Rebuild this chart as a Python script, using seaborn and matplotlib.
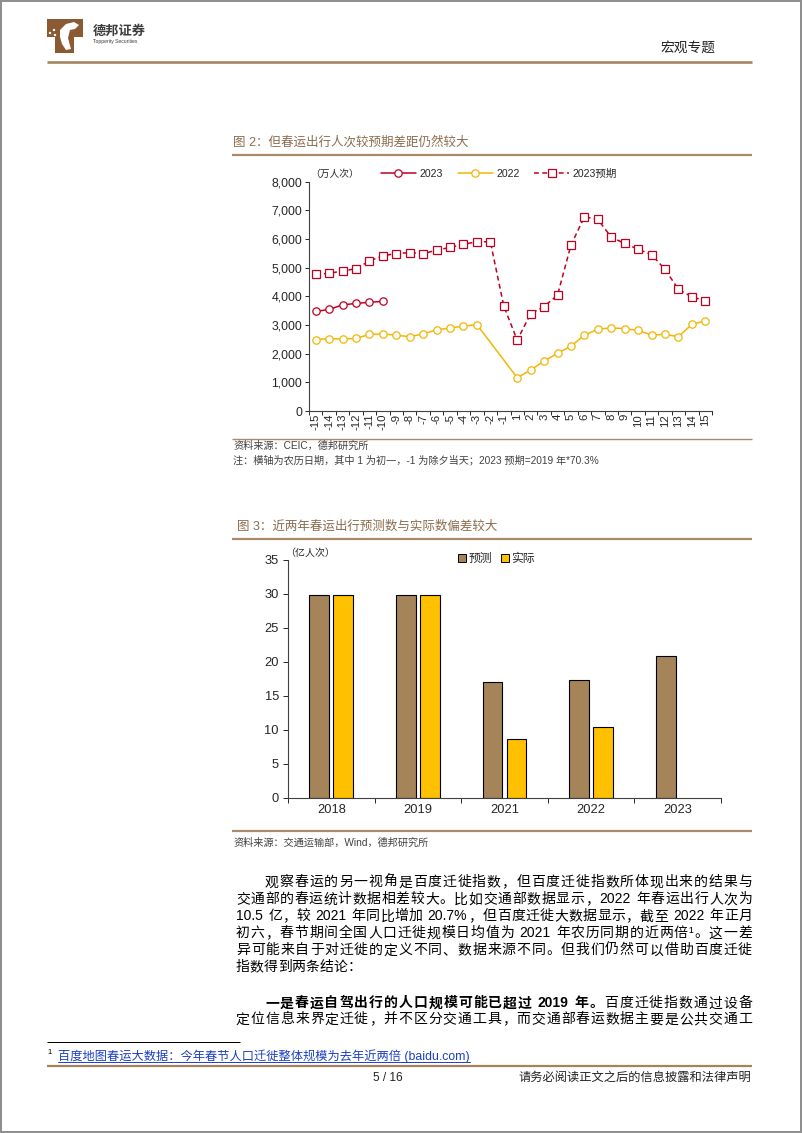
import re
import numpy as np
import pandas as pd
import matplotlib
matplotlib.use('Agg')
import matplotlib.pyplot as plt
import seaborn as sns
from matplotlib.patches import Rectangle, Polygon, Circle
from matplotlib.lines import Line2D
from matplotlib.ticker import FuncFormatter, FixedLocator, NullFormatter

# ---------------- data ----------------
days = ['-15', '-14', '-13', '-12', '-11', '-10', '-9', '-8', '-7', '-6', '-5', '-4', '-3', '-2', '-1',
        '1', '2', '3', '4', '5', '6', '7', '8', '9', '10', '11', '12', '13', '14', '15']
trips_2023 = [3470, 3540, 3700, 3750, 3790, 3820] + [np.nan] * 24
trips_2022 = [2490, 2520, 2510, 2530, 2670, 2690, 2640, 2590, 2690, 2830, 2890, 2960, 3010, np.nan, np.nan,
              1160, 1430, 1740, 2010, 2260, 2640, 2850, 2900, 2870, 2810, 2650, 2670, 2590, 3020, 3140]
trips_2023_expected = [4760, 4800, 4880, 4960, 5230, 5410, 5490, 5520, 5480, 5610, 5700, 5810, 5900, 5900, 3660,
                       2470, 3390, 3640, 4040, 5780, 6770, 6680, 6060, 5840, 5640, 5450, 4940, 4240, 3980, 3840]
series_names = ['2023', '2022', '2023预期']
y1_ticks = [0, 1000, 2000, 3000, 4000, 5000, 6000, 7000, 8000]

years = ['2018', '2019', '2021', '2022', '2023']
forecast = [29.8, 29.9, 17.0, 17.3, 20.9]
actual = [29.8, 29.8, 8.7, 10.5, np.nan]
bar_kinds = ['预测', '实际']
y2_ticks = [0, 5, 10, 15, 20, 25, 30, 35]

# ---------------- style ----------------
sns.set_style('white')
plt.rcParams['font.family'] = ['Liberation Sans', 'Noto Sans CJK SC', 'DejaVu Sans']
plt.rcParams['axes.unicode_minus'] = False

RED = '#c00020'
YEL = '#f2b705'
BAR_BROWN = '#a6845a'
BAR_GOLD = '#ffc000'
RULE = '#a88a6b'
TITLE_C = '#8a6d4f'
GREY = '#404040'

W, H = 802, 1133
fig = plt.figure(figsize=(W / 100, H / 100), dpi=100)
fig.patch.set_facecolor('white')

ov = fig.add_axes([0, 0, 1, 1], zorder=-5)
ov.set_xlim(0, W)
ov.set_ylim(H, 0)
ov.axis('off')
renderer = fig.canvas.get_renderer()


def hline(y, x0, x1, color=RULE, lw=1.5):
    ov.add_line(Line2D([x0, x1], [y, y], color=color, lw=lw * 0.72, solid_capstyle='butt'))


def fx(x):
    return x / W


def fy(y):
    return 1 - y / H


# page border
ov.add_patch(Rectangle((1, 1), W - 2, H - 2, fill=False, edgecolor='#8c8c8c', lw=1.4))

# ---------------- header ----------------
LOGO = '#8c5a32'
ov.add_patch(Polygon([(47, 19), (83, 19), (83, 37), (74, 37), (74, 53), (55, 53), (55, 37), (47, 37)],
                     closed=True, facecolor=LOGO, edgecolor='none'))
ov.add_patch(Polygon([(60, 30), (66, 24), (74, 22), (79, 25), (75, 29), (70, 30), (68, 38), (71, 49),
                      (66, 50), (62, 44), (60, 37)], closed=True, facecolor='white', edgecolor='none'))
for (cx, cy) in [(50, 33), (54, 30), (55, 35)]:
    ov.add_patch(Circle((cx, cy), 1.2, facecolor='white', edgecolor='none'))
ov.text(93, 32, '德邦证券', fontsize=9.5, fontweight='bold', color='#3d3d3d', va='center', ha='left')
ov.text(93, 42, 'Topperity Securities', fontsize=3.6, color='#3d3d3d', va='center', ha='left')
ov.text(660, 48, '宏观专题', fontsize=9.9, color='#222222', va='center', ha='left')
hline(62, 47, 752, color='#a5825c', lw=2.6)

# ---------------- chart 1 ----------------
ov.text(233, 142, '图 2：但春运出行人次较预期差距仍然较大', fontsize=9, color=TITLE_C, va='center', ha='left')
hline(155, 232, 752, lw=2.2)

ax1 = fig.add_axes([fx(309), fy(411), (712 - 309) / W, (411 - 181.5) / H])
ax1.patch.set_visible(False)
df1 = pd.DataFrame({'pos': np.arange(len(days)), 'day': days,
                    '2023': trips_2023, '2022': trips_2022, '2023预期': trips_2023_expected})
styles = {'2023': (RED, 'o', '-', 5.3), '2022': (YEL, 'o', '-', 5.3), '2023预期': (RED, 's', (0, (3.2, 2.2)), 5.6)}
for name in series_names:
    col, mk, ls, ms = styles[name]
    d = df1[['pos', name]].dropna()
    sns.lineplot(data=d, x='pos', y=name, ax=ax1, color=col, linewidth=1.1, linestyle=ls,
                 marker=mk, markersize=ms, markerfacecolor='white', markeredgecolor=col,
                 markeredgewidth=0.9, label=name, legend=False)
ax1.set_xlim(-0.5, len(days) - 0.5)
ax1.set_ylim(0, 8000)
ax1.set_xlabel('')
ax1.set_ylabel('')
ax1.yaxis.set_major_locator(FixedLocator(y1_ticks))
ax1.yaxis.set_major_formatter(FuncFormatter(lambda v, p: f'{int(v):,}'))
ax1.xaxis.set_major_locator(FixedLocator(np.arange(-0.5, len(days), 1.0)))
ax1.xaxis.set_major_formatter(NullFormatter())
ax1.xaxis.set_minor_locator(FixedLocator(np.arange(len(days))))
ax1.set_xticklabels(days, minor=True)
ax1.tick_params(axis='y', direction='out', length=3, width=0.7, labelsize=8.8, pad=2, colors='#262626', left=True)
ax1.tick_params(axis='x', which='major', direction='out', length=3, width=0.7, bottom=True)
ax1.tick_params(axis='x', which='minor', length=0, labelsize=8.2, pad=2, labelrotation=90, colors='#262626')
for s in ['top', 'right']:
    ax1.spines[s].set_visible(False)
for s in ['left', 'bottom']:
    ax1.spines[s].set_color('#404040')
    ax1.spines[s].set_linewidth(0.8)

ov.text(310, 174, '（万人次）', fontsize=7, color='#262626', va='center', ha='left')
h1, l1 = ax1.get_legend_handles_labels()
leg1 = ax1.legend(h1, l1, loc='center left', bbox_to_anchor=(fx(381), fy(174)),
                  bbox_transform=fig.transFigure, ncol=3, frameon=False, fontsize=7.6,
                  handlelength=3.3, handletextpad=0.35, columnspacing=1.4, borderpad=0, borderaxespad=0)
for t in leg1.get_texts():
    t.set_color('#262626')

hline(439, 232, 752, lw=1.4)
ov.text(233, 446, '资料来源：CEIC，德邦研究所', fontsize=7.3, color=GREY, va='center', ha='left')
ov.text(233, 460, '注：横轴为农历日期，其中 1 为初一，-1 为除夕当天；2023 预期=2019 年*70.3%',
        fontsize=7.3, color=GREY, va='center', ha='left')

# ---------------- chart 2 ----------------
ov.text(237, 527, '图 3：近两年春运出行预测数与实际数偏差较大', fontsize=9, color=TITLE_C, va='center', ha='left')
hline(539, 232, 752, lw=2.2)

ax2 = fig.add_axes([fx(288), fy(798), 433 / W, (798 - 560) / H])
ax2.patch.set_visible(False)
df2 = pd.DataFrame({'year': years * 2,
                    'kind': [bar_kinds[0]] * len(years) + [bar_kinds[1]] * len(years),
                    'value': forecast + actual}).dropna()
sns.barplot(data=df2, x='year', y='value', hue='kind', order=years, hue_order=bar_kinds,
            palette=[BAR_BROWN, BAR_GOLD], saturation=1, width=0.554, gap=0.17,
            edgecolor='black', linewidth=0.8, errorbar=None, ax=ax2, legend=False)
ax2.set_xlim(-0.5, len(years) - 0.5)
ax2.set_ylim(0, 35)
ax2.set_xlabel('')
ax2.set_ylabel('')
ax2.yaxis.set_major_locator(FixedLocator(y2_ticks))
ax2.xaxis.set_major_locator(FixedLocator(np.arange(-0.5, len(years), 1.0)))
ax2.xaxis.set_major_formatter(NullFormatter())
ax2.xaxis.set_minor_locator(FixedLocator(np.arange(len(years))))
ax2.set_xticklabels(years, minor=True)
ax2.tick_params(axis='y', direction='out', length=3.5, width=0.7, labelsize=9.3, pad=3, colors='#262626', left=True)
ax2.tick_params(axis='x', which='major', direction='out', length=3.5, width=0.7, bottom=True)
ax2.tick_params(axis='x', which='minor', length=0, labelsize=9.3, pad=4, colors='#262626')
for s in ['top', 'right']:
    ax2.spines[s].set_visible(False)
for s in ['left', 'bottom']:
    ax2.spines[s].set_color('#404040')
    ax2.spines[s].set_linewidth(0.8)

ov.text(285, 553, '（亿人次）', fontsize=7.2, color='#262626', va='center', ha='left')
h2 = [Rectangle((0, 0), 1, 1, facecolor=c, edgecolor='black', lw=0.7) for c in [BAR_BROWN, BAR_GOLD]]
ax2.legend(h2, bar_kinds, loc='center left', bbox_to_anchor=(fx(458), fy(559)),
           bbox_transform=fig.transFigure, ncol=2, frameon=False, fontsize=8.5,
           handlelength=0.7, handleheight=0.7, handletextpad=0.2, columnspacing=0.75,
           borderpad=0, borderaxespad=0)

hline(831, 232, 752, lw=2.2)
ov.text(233, 843, '资料来源：交通运输部，Wind，德邦研究所', fontsize=7.3, color=GREY, va='center', ha='left')

# ---------------- body text ----------------
FS = 10.0
FS_PX = FS * 100 / 72


def tokens(s):
    return re.findall(r'[0-9A-Za-z.%¹]+| +|.', s)


def ascii_width(t, weight):
    txt = ov.text(0, 0, t, fontsize=FS, fontweight=weight)
    w = txt.get_window_extent(renderer).width
    txt.remove()
    return w


def body_line(segs, x0, yc, x1=752, justify=True):
    toks = []
    for s, wgt in segs:
        for t in tokens(s):
            toks.append((t, wgt))
    widths = []
    for t, wgt in toks:
        if t.strip() == '':
            widths.append(len(t) * 0.28 * FS_PX)
        elif ord(t[0]) < 256:
            widths.append(ascii_width(t, wgt) + 0.5)
        else:
            widths.append(FS_PX)
    gap = (x1 - x0 - sum(widths)) / (len(toks) - 1) if justify else 0
    x = x0
    for (t, wgt), w in zip(toks, widths):
        if t.strip():
            ov.text(x, yc + 0.38 * FS_PX, t, fontsize=FS, fontweight=wgt, color='black',
                    va='baseline', ha='left')
        x += w + gap


body = [
    ([('观察春运的另一视角是百度迁徙指数，但百度迁徙指数所体现出来的结果与', 'normal')], 265, 881, True),
    ([('交通部的春运统计数据相差较大。比如交通部数据显示，2022 年春运出行人次为', 'normal')], 236, 898, True),
    ([('10.5 亿，较 2021 年同比增加 20.7%，但百度迁徙大数据显示，截至 2022 年正月', 'normal')], 236, 915, True),
    ([('初六，春节期间全国人口迁徙规模日均值为 2021 年农历同期的近两倍¹。这一差', 'normal')], 236, 932, True),
    ([('异可能来自于对迁徙的定义不同、数据来源不同。但我们仍然可以借助百度迁徙', 'normal')], 236, 949, True),
    ([('指数得到两条结论：', 'normal')], 236, 966, False),
    ([('一是春运自驾出行的人口规模可能已超过 2019 年。', 'bold'), ('百度迁徙指数通过设备', 'normal')], 265, 1002, True),
    ([('定位信息来界定迁徙，并不区分交通工具，而交通部春运数据主要是公共交通工', 'normal')], 236, 1018, True),
]
for segs, x0, yc, just in body:
    body_line(segs, x0, yc, justify=just)

# ---------------- footnote & footer ----------------
hline(1042, 47, 240, color='black', lw=1.0)
ov.text(47, 1053, '1', fontsize=5.5, color='black', va='center', ha='left')
fn = ov.text(58, 1056, '百度地图春运大数据：今年春节人口迁徙整体规模为去年近两倍 (baidu.com)',
             fontsize=8.8, color='#1a3fc4', va='center', ha='left')
bb = fn.get_window_extent(renderer)
ov.add_line(Line2D([58, 58 + bb.width], [1062, 1062], color='#1a3fc4', lw=0.7))
hline(1066, 47, 752, color='#a5825c', lw=2.2)
ov.text(388, 1078, '5 / 16', fontsize=8.6, color='#222222', va='center', ha='center')
ov.text(518, 1078, '请务必阅读正文之后的信息披露和法律声明', fontsize=8.8, color='#222222', va='center', ha='left')

fig.savefig('out.png', dpi=100, facecolor='white')
